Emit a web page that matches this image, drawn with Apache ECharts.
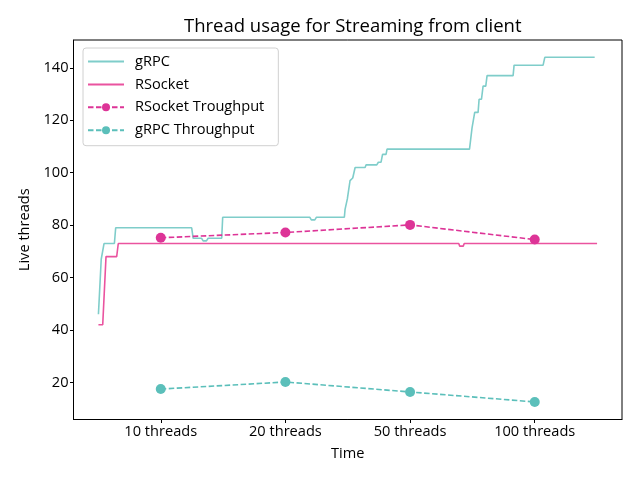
<!DOCTYPE html>
<html>
<head>
<meta charset="utf-8">
<script src="https://cdn.jsdelivr.net/npm/echarts@6/dist/echarts.min.js"></script>
<style>html,body{margin:0;padding:0;background:#fff}#c{width:640px;height:480px}</style>
</head>
<body>
<div id="c"></div>
<script>
// Tick labels and throughput positions on the time axis
var tickLabels = ['10 threads', '20 threads', '50 threads', '100 threads'];
var tickPos = [62.5, 187.5, 312.5, 437.5];
var yTicks = [20, 40, 60, 80, 100, 120, 140];

// Throughput series values (one per tick)
var rsocketThroughput = [75.2, 77.2, 80.1, 74.5];
var grpcThroughput = [17.5, 20.2, 16.4, 12.6];

// Live thread time series: [time, threads] breakpoints
var grpcThreads = [
  [0, 46], [1, 46], [2.8, 67], [3.8, 67], [5.6, 73], [16, 73], [17.3, 79],
  [93.5, 79], [95, 75], [103.5, 75], [105, 74], [108.3, 74], [110, 75],
  [123.6, 75], [124.6, 83], [212, 83], [213.5, 82], [217, 82], [218.5, 83],
  [246.6, 83], [247.3, 86], [249.6, 90], [252.3, 97], [255, 98], [257.4, 102],
  [267.4, 102], [268.4, 103], [279.1, 103], [280.7, 104], [283.4, 104],
  [284.9, 107], [288.4, 107], [289.4, 109], [372.1, 109], [374.6, 117],
  [377.3, 123], [380.7, 123], [381.7, 128], [384.1, 128], [385.7, 133],
  [388.4, 133], [389.7, 137], [415.8, 137], [416.8, 141], [445.9, 141],
  [447.6, 144], [497.6, 144]
];
var rsocketThreads = [
  [0, 42], [4.3, 42], [7.6, 68], [18.3, 68], [19.9, 73], [361.3, 73],
  [362.3, 72], [365.8, 72], [366.8, 73], [500, 73]
];

var FONT = 'Open Sans';
var FS = 14.6;
var gridL = 73.5, gridR = 18, gridT = 40, gridB = 60.5;

var chart = echarts.init(document.getElementById('c'), null, {renderer: 'canvas'});
chart.setOption({
  animation: false,
  backgroundColor: '#ffffff',
  textStyle: {fontFamily: FONT},
  title: {
    text: 'Thread usage for Streaming from client',
    left: gridL + (640 - gridL - gridR) / 2, top: 12, textAlign: 'center',
    textStyle: {fontFamily: FONT, fontSize: 18.5, fontWeight: 'normal', color: '#000'}
  },
  legend: {
    orient: 'vertical', left: 83, top: 48,
    padding: [6, 14, 8, 4],
    itemWidth: 36, itemHeight: 10, itemGap: 7.9,
    borderColor: '#d0d0d0', borderWidth: 1, borderRadius: 3,
    backgroundColor: 'rgba(255,255,255,0.8)',
    textStyle: {fontFamily: FONT, fontSize: FS, color: '#000', padding: [0, 0, 0, 6]},
    data: [
      {name: 'gRPC', itemStyle: {opacity: 0}},
      {name: 'RSocket', itemStyle: {opacity: 0}},
      {name: 'RSocket Troughput'},
      {name: 'gRPC Throughput'}
    ]
  },
  grid: {left: gridL, right: gridR, top: gridT, bottom: gridB, show: true,
    borderColor: '#000', borderWidth: 1, backgroundColor: 'transparent'},
  xAxis: {
    type: 'value', min: -25, max: 525,
    name: 'Time', nameLocation: 'middle', nameGap: 27,
    nameTextStyle: {fontFamily: FONT, fontSize: FS, color: '#000'},
    splitLine: {show: false},
    axisLine: {show: true, onZero: false, lineStyle: {color: '#000', width: 1}},
    axisTick: {show: true, length: 3.5, inside: false, customValues: tickPos, lineStyle: {color: '#000'}},
    axisLabel: {customValues: tickPos, fontFamily: FONT, fontSize: FS, color: '#000', margin: 5,
      formatter: function (v) { var i = tickPos.indexOf(v); return i >= 0 ? tickLabels[i] : ''; }}
  },
  yAxis: {
    type: 'value', min: 5.9, max: 150.6,
    name: 'Live threads', nameLocation: 'middle', nameGap: 41, nameRotate: 90,
    nameTextStyle: {fontFamily: FONT, fontSize: FS, color: '#000'},
    splitLine: {show: false},
    axisLine: {show: true, onZero: false, lineStyle: {color: '#000', width: 1}},
    axisTick: {show: true, length: 3.5, customValues: yTicks, lineStyle: {color: '#000'}},
    axisLabel: {customValues: yTicks, fontFamily: FONT, fontSize: FS, color: '#000', margin: 5}
  },
  series: [
    {name: 'gRPC', type: 'line', data: grpcThreads, symbol: 'none', smooth: false,
      color: '#7fcdca', lineStyle: {color: '#7fcdca', width: 1.6}, z: 2},
    {name: 'RSocket', type: 'line', data: rsocketThreads, symbol: 'none',
      color: '#ea539f', lineStyle: {color: '#ea539f', width: 1.6}, z: 2},
    {name: 'RSocket Troughput', type: 'line',
      data: tickPos.map(function (x, i) { return [x, rsocketThroughput[i]]; }),
      symbol: 'circle', symbolSize: 10, color: '#dd3497',
      itemStyle: {color: '#dd3497'},
      lineStyle: {color: '#dd3497', width: 1.6, type: [5.5, 2.5]}, z: 3},
    {name: 'gRPC Throughput', type: 'line',
      data: tickPos.map(function (x, i) { return [x, grpcThroughput[i]]; }),
      symbol: 'circle', symbolSize: 10, color: '#5bbfba',
      itemStyle: {color: '#5bbfba'},
      lineStyle: {color: '#5bbfba', width: 1.6, type: [5.5, 2.5]}, z: 3}
  ]
});
</script>
</body>
</html>
